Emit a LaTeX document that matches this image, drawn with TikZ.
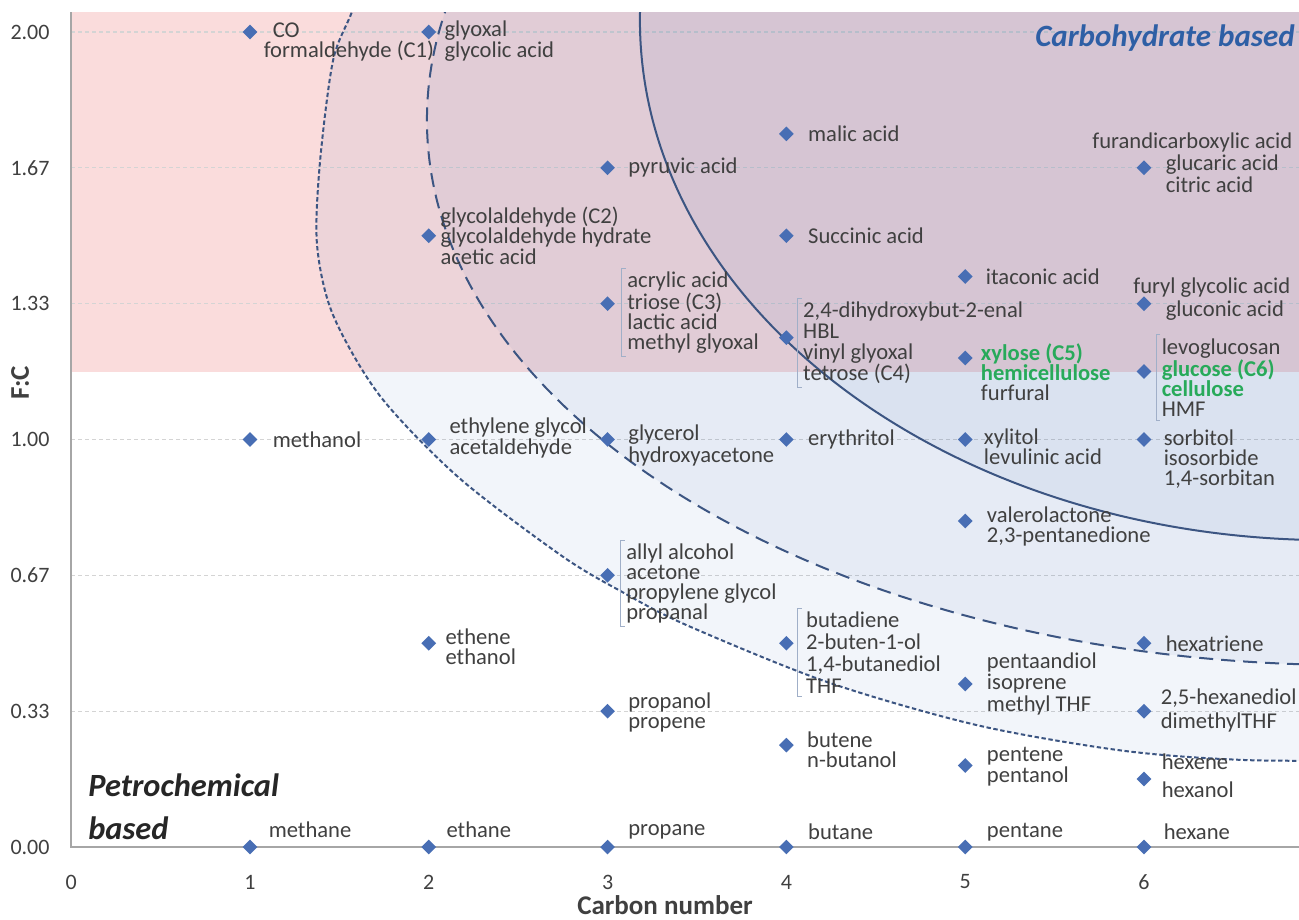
\documentclass[tikz,border=0pt]{standalone}
\usepackage{fontspec}
\setmainfont{Carlito}
\usepackage{tikz}
\usetikzlibrary{shapes.geometric, positioning}
\definecolor{ptblue}{RGB}{72,110,180}
\definecolor{ellblue}{RGB}{40,90,170}
\definecolor{ellline}{RGB}{60,85,130}
\definecolor{bandpink}{RGB}{250,220,220}
\definecolor{txtgray}{RGB}{64,64,64}
\definecolor{sugar}{RGB}{40,170,90}
\definecolor{carbo}{RGB}{46,95,165}
\definecolor{gridgray}{RGB}{212,212,212}
\definecolor{brkgray}{RGB}{160,175,200}
\tikzstyle{gridline}=[gridgray, line width=0.6pt, dash pattern=on 2pt off 1.5pt]
\newcommand{\lsp}[1]{\fontsize{11.3}{#1}\selectfont}
\newcommand{\grn}[1]{\textcolor{sugar}{\textbf{#1}}}

\begin{document}
\begin{tikzpicture}[x=89.4pt, y=203.75pt,
  mol/.style={diamond, aspect=1, fill=ptblue, inner sep=0pt,
              minimum width=7.5pt, minimum height=7.5pt},
  lbl/.style={inner sep=0pt, align=left, text=txtgray, font=\lsp{10}},
  blbl/.style={lbl, inner xsep=2.5pt, inner ysep=1.5pt},
  brk/.style={draw=brkgray, line width=0.5pt},
  ell/.style={draw=ellline, line width=1pt, fill=ellblue, fill opacity=0.06},
  tick/.style={inner sep=0pt, text=txtgray, font=\fontsize{11}{13}\selectfont},
  axtitle/.style={inner sep=0pt, text=txtgray, font=\bfseries\fontsize{13.5}{15}\selectfont}
]
\useasboundingbox (-0.398,-0.1767) rectangle (6.867,2.0785);
\fill[white] (-0.398,-0.1767) rectangle (6.867,2.0785);

% Bands and grid
\fill[bandpink] (0,1.1656) rectangle (6.867,2.049);
\foreach \v in {0.3333,0.6667,1,1.3333,1.6667,2}
  \draw[gridline] (0,\v) -- (6.867,\v);

% Regions
\begin{scope}
\clip (0,0) rectangle (6.867,2.049);
\path[ell, dash pattern=on 2.2pt off 1.3pt] plot[smooth] coordinates {
  (1.672,2.177) (1.570,2.049) (1.464,1.929) (1.391,1.678) (1.375,1.478)
  (1.464,1.306) (1.727,1.107) (2.169,0.906) (2.745,0.714) (3.081,0.626)
  (3.439,0.545) (4.227,0.405) (5.066,0.299) (5.888,0.236) (6.593,0.213)
  (7.432,0.213)}
  -- (7.432,2.3) -- cycle;
\path[ell, dash pattern=on 7pt off 4pt] (7.152,1.784) ellipse [x radius=461.5pt, y radius=272.5pt];
\path[ell] (7.040,2.029) ellipse [x radius=345pt, y radius=260pt];
\end{scope}

% Axes
\draw[gray!70, line width=0.8pt] (0,2.049) -- (0,0) -- (6.867,0);
\foreach \v/\t [count=\i] in {0/0.00,0.3333/0.33,0.6667/0.67,1/1.00,1.3333/1.33,1.6667/1.67,2/2.00}
  \node[tick, anchor=east] (ytk\i) at (-0.1186,\v) {\t};
\foreach \c in {0,...,6}
  \node[tick] (xtk\c) at (\c,-0.0859) {\c};
\node[axtitle] (cnum) at (3.321,-0.1423) {Carbon number};
\node[axtitle, rotate=90] (fc) at (-0.286,1.139) {F:C};

% C1
\node[mol] (co) at (1,2) {};
\node[lbl, right=2.75pt of co, yshift=-5pt] (co_lbl) {\hspace*{4.5pt}CO\\formaldehyde (C1)};
\node[mol] (methanol) at (1,1) {};
\node[lbl, right=7.25pt of methanol] (methanol_lbl) {methanol};
\node[mol] (methane) at (1,0) {};
\node[lbl, right=5.25pt of methane, yshift=8.5pt] (methane_lbl) {methane};

% C2
\node[mol] (glyoxal) at (2,2) {};
\node[lbl, right=3.75pt of glyoxal, yshift=-4.5pt, font=\lsp{9}] (glyoxal_lbl) {glyoxal\\glycolic acid};
\node[mol] (glycolald) at (2,1.5) {};
\node[lbl, right=1.75pt of glycolald, font=\lsp{10.25}] (glycolald_lbl) {glycolaldehyde (C2)\\glycolaldehyde hydrate\\acetic acid};
\node[mol] (ethglycol) at (2,1) {};
\node[lbl, right=6.25pt of ethglycol, yshift=0.75pt, font=\lsp{8.8}] (ethglycol_lbl) {ethylene glycol\\acetaldehyde};
\node[mol] (ethene) at (2,0.5) {};
\node[lbl, right=4.25pt of ethene, yshift=-1.5pt] (ethene_lbl) {ethene\\ethanol};
\node[mol] (ethane) at (2,0) {};
\node[lbl, right=4.75pt of ethane, yshift=8.5pt] (ethane_lbl) {ethane};

% C3
\node[mol] (pyruvic) at (3,1.6667) {};
\node[lbl, right=6.25pt of pyruvic] (pyruvic_lbl) {pyruvic acid};
\node[mol] (acrylic) at (3,1.3333) {};
\node[blbl, right=3.25pt of acrylic, yshift=-4.5pt] (acrylic_lbl) {acrylic acid\\triose (C3)\\lactic acid\\methyl glyoxal};
\node[mol] (glycerol) at (3,1) {};
\node[lbl, right=6.25pt of glycerol, yshift=-3pt, font=\lsp{9}] (glycerol_lbl) {glycerol\\hydroxyacetone};
\node[mol] (allyl) at (3,0.6667) {};
\node[blbl, right=2.75pt of allyl, yshift=-4pt] (allyl_lbl) {allyl alcohol\\acetone\\propylene glycol\\propanal};
\node[mol] (propanol) at (3,0.3333) {};
\node[lbl, right=6.25pt of propanol, yshift=-0.5pt] (propanol_lbl) {propanol\\propene};
\node[mol] (propane) at (3,0) {};
\node[lbl, right=6.25pt of propane, yshift=7.5pt] (propane_lbl) {propane};

% C4
\node[mol] (malic) at (4,1.75) {};
\node[lbl, right=6.75pt of malic] (malic_lbl) {malic acid};
\node[mol] (succinic) at (4,1.5) {};
\node[lbl, right=6.75pt of succinic] (succinic_lbl) {Succinic acid};
\node[mol] (hbl) at (4,1.25) {};
\node[blbl, right=1.75pt of hbl, yshift=-2.75pt, font=\lsp{10.5}] (hbl_lbl) {2,4-dihydroxybut-2-enal\\HBL\\vinyl glyoxal\\tetrose (C4)};
\node[mol] (erythritol) at (4,1) {};
\node[lbl, right=6.75pt of erythritol] (erythritol_lbl) {erythritol};
\node[mol] (butadiene) at (4,0.5) {};
\node[blbl, right=1.75pt of butadiene, yshift=-4.5pt, inner xsep=4pt, font=\lsp{11}] (butadiene_lbl) {butadiene\\2-buten-1-ol\\1,4-butanediol\\THF};
\node[mol] (butene) at (4,0.25) {};
\node[lbl, right=6.25pt of butene, yshift=-2.5pt] (butene_lbl) {butene\\n-butanol};
\node[mol] (butane) at (4,0) {};
\node[lbl, right=6.75pt of butane, yshift=7.5pt] (butane_lbl) {butane};

% C5
\node[mol] (itaconic) at (5,1.4) {};
\node[lbl, right=6.25pt of itaconic] (itaconic_lbl) {itaconic acid};
\node[mol] (xylose) at (5,1.2) {};
\node[lbl, right=3.75pt of xylose, yshift=-7pt] (xylose_lbl) {\grn{xylose (C5)}\\\grn{hemicellulose}\\furfural};
\node[mol] (xylitol) at (5,1) {};
\node[lbl, right=5.25pt of xylitol, yshift=-3.5pt] (xylitol_lbl) {xylitol\\levulinic acid};
\node[mol] (valero) at (5,0.8) {};
\node[lbl, right=6.75pt of valero, yshift=-2.5pt] (valero_lbl) {valerolactone\\2,3-pentanedione};
\node[mol] (pentaandiol) at (5,0.4) {};
\node[lbl, right=6.75pt of pentaandiol, font=\lsp{9.2}] (pentaandiol_lbl) {pentaandiol\\isoprene\\methyl THF};
\node[mol] (pentene) at (5,0.2) {};
\node[lbl, right=6.75pt of pentene, yshift=-0.75pt, font=\lsp{9.5}] (pentene_lbl) {pentene\\pentanol};
\node[mol] (pentane) at (5,0) {};
\node[lbl, right=6.75pt of pentane, yshift=7.5pt] (pentane_lbl) {pentane};

% C6
\node[mol] (glucaric) at (6,1.6667) {};
\node[lbl, right=6.75pt of glucaric, yshift=-3pt, font=\lsp{11}] (glucaric_lbl) {glucaric acid\\citric acid};
\node[lbl, anchor=west] (furandi_lbl) at ([xshift=-26pt, yshift=12.5pt]glucaric.center) {furandicarboxylic acid};
\node[mol] (gluconic) at (6,1.3333) {};
\node[lbl, right=6.75pt of gluconic, yshift=-3.5pt] (gluconic_lbl) {gluconic acid};
\node[lbl, anchor=west] (furyl_lbl) at ([xshift=-5.5pt, yshift=8pt]gluconic.center) {furyl glycolic acid};
\node[mol] (glucose) at (6,1.1667) {};
\node[blbl, right=2.25pt of glucose, yshift=-3pt] (glucose_lbl) {levoglucosan\\\grn{glucose (C6)}\\\grn{cellulose}\\HMF};
\node[mol] (sorbitol) at (6,1) {};
\node[lbl, right=5.75pt of sorbitol, yshift=-10pt] (sorbitol_lbl) {sorbitol\\isosorbide\\1,4-sorbitan};
\node[mol] (hexatriene) at (6,0.5) {};
\node[lbl, right=6.75pt of hexatriene] (hexatriene_lbl) {hexatriene};
\node[mol] (hexanediol) at (6,0.3333) {};
\node[lbl, right=4.25pt of hexanediol, yshift=0.5pt, font=\lsp{12}] (hexanediol_lbl) {2,5-hexanediol\\dimethylTHF};
\node[mol] (hexene) at (6,0.1667) {};
\node[lbl, right=4.75pt of hexene, yshift=1.5pt, font=\lsp{14}] (hexene_lbl) {hexene\\hexanol};
\node[mol] (hexane) at (6,0) {};
\node[lbl, right=5.75pt of hexane, yshift=7.5pt] (hexane_lbl) {hexane};

% Brackets
\draw[brk] ([xshift=2pt]acrylic_lbl.north west) -- (acrylic_lbl.north west) -- (acrylic_lbl.south west) -- ([xshift=2pt]acrylic_lbl.south west);
\draw[brk] ([xshift=2pt]allyl_lbl.north west) -- (allyl_lbl.north west) -- (allyl_lbl.south west) -- ([xshift=2pt]allyl_lbl.south west);
\draw[brk] ([xshift=2pt]hbl_lbl.north west) -- (hbl_lbl.north west) -- (hbl_lbl.south west) -- ([xshift=2pt]hbl_lbl.south west);
\draw[brk] ([xshift=2pt]butadiene_lbl.north west) -- (butadiene_lbl.north west) -- (butadiene_lbl.south west) -- ([xshift=2pt]butadiene_lbl.south west);
\draw[brk] ([xshift=2pt]glucose_lbl.north west) -- (glucose_lbl.north west) -- (glucose_lbl.south west) -- ([xshift=2pt]glucose_lbl.south west);

% Region titles
\node[anchor=east, inner sep=0pt, text=carbo, font=\bfseries\itshape\fontsize{15.5}{18}\selectfont] (carbo_title) at (6.845,1.985) {Carbohydrate based};
\node[anchor=west, inner sep=0pt, align=left, text=black!85, font=\bfseries\itshape\fontsize{16.2}{21.5}\selectfont] (petro_title) at (0.094,0.0994) {Petrochemical\\based};
\end{tikzpicture}
\end{document}
